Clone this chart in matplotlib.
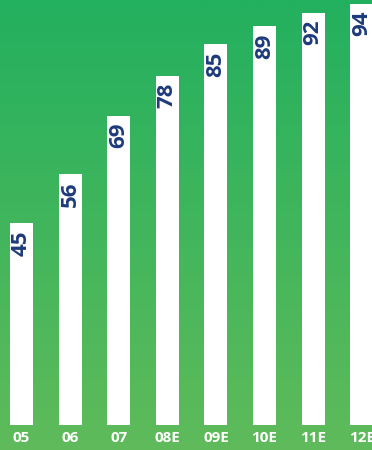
import numpy as np
import matplotlib.pyplot as plt
from matplotlib.colors import LinearSegmentedColormap

years = ["05", "06", "07", "08E", "09E", "10E", "11E", "12E"]
values = [45, 56, 69, 78, 85, 89, 92, 94]

navy = "#1d3a7a"
green_top = "#23b05f"
green_bottom = "#5fbb5a"

fig = plt.figure(figsize=(3.72, 4.5), dpi=100)

# gradient background over the whole figure
bg = fig.add_axes([0, 0, 1, 1])
grad = np.linspace(0, 1, 256).reshape(-1, 1)
cmap = LinearSegmentedColormap.from_list("bg", [green_top, green_bottom])
bg.imshow(grad, aspect="auto", cmap=cmap, extent=[0, 1, 0, 1], origin="upper")
bg.axis("off")

ax = fig.add_axes([0, 25 / 450, 1, 425 / 450])
ax.patch.set_alpha(0)
x = np.arange(len(years))
ax.bar(x, values, width=0.473, color="white", zorder=2)
ax.set_xlim(-0.442, 7.21)
ax.set_ylim(0, 94.9)

for xi, v in zip(x, values):
    ax.annotate(str(v), (xi, v), xytext=(0, -5), textcoords="offset points",
                rotation=90, ha="center", va="top", color=navy,
                fontsize=16, fontweight="bold", family="Open Sans")

ax.set_xticks(x)
ax.set_xticklabels(years, color="white", fontsize=11, fontweight="bold",
                   family="Open Sans")
ax.tick_params(axis="x", length=0, pad=4)
ax.set_yticks([])
for s in ax.spines.values():
    s.set_visible(False)

fig.savefig("out.png", dpi=100)
